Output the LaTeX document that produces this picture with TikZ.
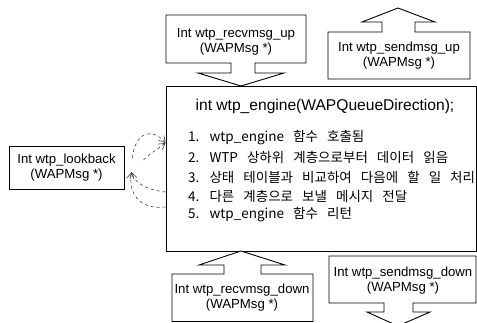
\documentclass[tikz,border=0pt]{standalone}
\usepackage{fontspec}
\setmainfont{Liberation Sans}
\newfontfamily\kr[WordSpace=3.0]{Noto Sans CJK KR}
\usetikzlibrary{calc,arrows.meta}
\begin{document}
\begin{tikzpicture}[x=1pt,y=1pt,
  box/.style={draw=black,line width=0.9pt},
  lbl/.style={font=\fontsize{13.2}{15}\selectfont,align=center,inner sep=0pt},
  item/.style={inner sep=0pt,anchor=west,font=\kr\fontsize{13.5}{15}\selectfont},
  loop/.style={draw=black!75,dashed,line width=0.6pt,-{Straight Barb[length=6pt,width=7pt]}}]
\useasboundingbox (0,0) rectangle (477,322);
% main box
\node[box,minimum width=310pt,minimum height=165pt,inner sep=0pt] (main) at (321,153.5) {};
\node[inner sep=0pt,font=\fontsize{15.6}{18}\selectfont] (title) at (325,216) {int wtp\_engine(WAPQueueDirection);};
\node[item] (l1) at (188,184) {1. wtp\_engine 함수 호출됨};
\node[item] (l2) at (188,165) {2. WTP 상하위 계층으로부터 데이터 읽음};
\node[item] (l3) at (188,145) {3. 상태 테이블과 비교하여 다음에 할 일 처리};
\node[item] (l4) at (188,126) {4. 다른 계층으로 보낼 메시지 전달};
\node[item] (l5) at (188,107) {5. wtp\_engine 함수 리턴};
% recv up callout
\draw[box,fill=white] (166,307) -- (306,307) -- (306,259) -- (255,259) -- (255,249) -- (284,249)
  -- (241,236) -- (198,249) -- (231,249) -- (231,259) -- (166,259) -- cycle;
\node[lbl] (ru) at (236,280) {Int wtp\_recvmsg\_up\\(WAPMsg *)};
% send up callout
\draw[box,fill=white] (328,290) -- (382,290) -- (382,300) -- (362,300) -- (398,314) -- (435,300)
  -- (415,300) -- (415,290) -- (470,290) -- (470,243) -- (328,243) -- cycle;
\node[lbl] (su) at (399,266.5) {Int wtp\_sendmsg\_up\\(WAPMsg *)};
% recv down callout
\draw[box,fill=white] (172,48) -- (224,48) -- (224,57) -- (199,57) -- (241,71) -- (285,57)
  -- (261,57) -- (261,48) -- (313,48) -- (313,0.5) -- (172,0.5) -- cycle;
\node[lbl] (rd) at (242,24.5) {Int wtp\_recvmsg\_down\\(WAPMsg *)};
% send down callout
\draw[box,fill=white] (329,66) -- (476,66) -- (476,19) -- (413,19) -- (413,10) -- (430,10)
  -- (398,-4) -- (367,10) -- (384,10) -- (384,19) -- (329,19) -- cycle;
\node[lbl] (sd) at (403,41) {Int wtp\_sendmsg\_down\\(WAPMsg *)};
% lookback
\node[box,minimum width=115pt,minimum height=43pt,lbl] (lb) at (66.5,154.5) {Int wtp\_lookback\\(WAPMsg *)};
\coordinate (tin) at ($(main.west)+(0,25.5)$);
\coordinate (tout) at ($(lb.east)+(7,-4.5)$);
\draw[loop] ($(lb.east)+(8,9.5)$) .. controls (135,190) and (152,195) .. (tin);
\draw[loop] ($(lb.east)+(19,7.5)$) .. controls (150,168) and (156,172) .. (tin);
\draw[loop] ($(main.west)+(0,-23.5)$) .. controls (148,132) and (135,138) .. (tout);
\draw[loop] ($(main.west)+(0,-38.5)$) .. controls (140,112) and (128,128) .. (tout);
\end{tikzpicture}
\end{document}
